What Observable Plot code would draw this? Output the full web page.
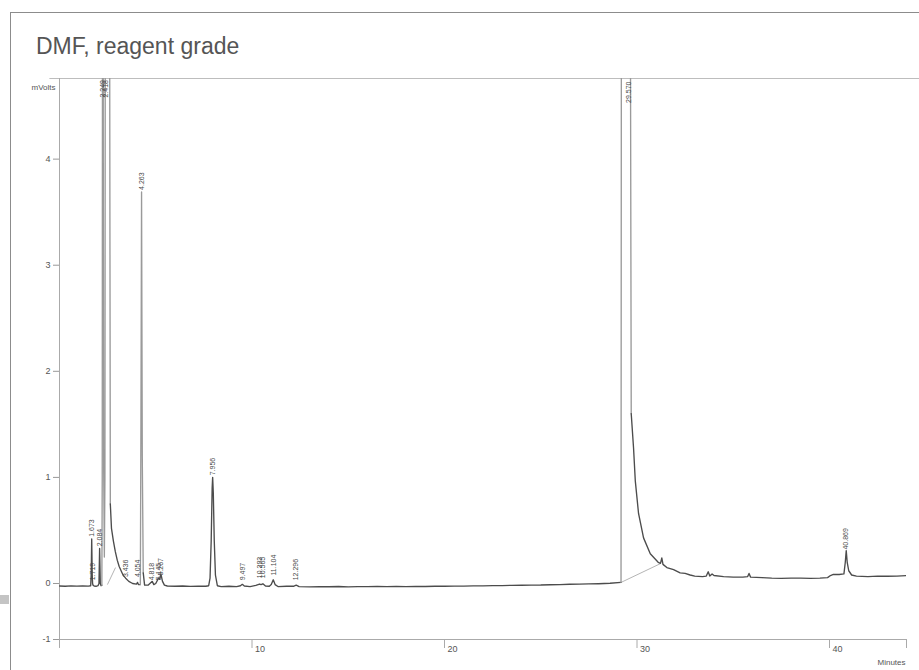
<!DOCTYPE html>
<html>
<head>
<meta charset="utf-8">
<script src="https://cdn.jsdelivr.net/npm/d3@7"></script>
<script src="https://cdn.jsdelivr.net/npm/@observablehq/plot@0.6"></script>
<style>
  html, body { margin: 0; padding: 0; background: #fff; width: 919px; height: 670px; overflow: hidden; position: relative; }
  #frame { position: absolute; left: 10px; top: 12px; width: 1000px; height: 800px; border-left: 1px solid #8c8c8c; border-top: 1px solid #8c8c8c; }
  #deco { position: absolute; left: 0; top: 595px; width: 9px; height: 9px; background: #c4c4c4; }
  #title { position: absolute; left: 36px; top: 35px; font-family: "Liberation Sans", Arial, sans-serif; font-size: 23px; line-height: 23px; color: #555; white-space: nowrap; }
  #chart { position: absolute; left: 0; top: 70px; }
</style>
</head>
<body>
<div id="frame"></div>
<div id="deco"></div>
<div id="title">DMF, reagent grade</div>
<div id="chart"></div>
<script>
// Detector trace: [minutes, mVolts] (values above the top are off-scale)
const trace = [
  [0, -0.045], [0.3, -0.05], [0.6, -0.042], [0.9, -0.048], [1.2, -0.044], [1.5, -0.046], [1.62, -0.04],
  [1.65, 0.1], [1.673, 0.42], [1.70, 0.08], [1.719, 0.0], [1.74, -0.03], [1.8, -0.045], [1.9, -0.05], [2.0, -0.04],
  [2.05, 0.0], [2.084, 0.33], [2.12, 0.0], [2.16, -0.04], [2.2, -0.03],
  [2.22, 1.0], [2.235, 6.0], [2.265, 6.0], [2.29, 1.2], [2.33, 0.25],
  [2.36, 1.0], [2.38, 6.0], [2.60, 6.0], [2.64, 0.75], [2.7, 0.52], [2.8, 0.4], [2.9, 0.3],
  [3.0, 0.22], [3.1, 0.16], [3.2, 0.12], [3.3, 0.08], [3.436, 0.05], [3.6, 0.02], [3.8, 0.0], [4.0, -0.01],
  [4.054, 0.01], [4.1, -0.02], [4.2, -0.02], [4.23, 1.5], [4.263, 3.69], [4.3, 1.2], [4.35, 0.1], [4.42, -0.03],
  [4.6, -0.03], [4.818, 0.02], [4.9, -0.02], [5.0, 0.0], [5.145, 0.05], [5.2, 0.04], [5.267, 0.09], [5.35, 0.02],
  [5.45, -0.03], [5.6, -0.045], [6.0, -0.05], [6.4, -0.045], [6.8, -0.052], [7.2, -0.048], [7.6, -0.05], [7.75, -0.04],
  [7.82, 0.05], [7.88, 0.4], [7.93, 0.9], [7.956, 1.0], [7.99, 0.85], [8.04, 0.4], [8.1, 0.08], [8.2, -0.04],
  [8.4, -0.055], [8.8, -0.05], [9.2, -0.055], [9.4, -0.04], [9.497, -0.015], [9.6, -0.045], [9.9, -0.055],
  [10.2, -0.035], [10.393, -0.01], [10.47, -0.02], [10.565, -0.005], [10.7, -0.045], [10.9, -0.05], [11.0, -0.02],
  [11.104, 0.035], [11.2, -0.02], [11.35, -0.055], [11.8, -0.05], [12.15, -0.05], [12.296, -0.03], [12.45, -0.055],
  [13, -0.06], [13.5, -0.055], [14, -0.058], [14.5, -0.053], [15, -0.06], [15.5, -0.055], [16, -0.057], [16.5, -0.054],
  [17, -0.056], [17.5, -0.052], [18, -0.057], [18.5, -0.051], [19, -0.053], [19.5, -0.049], [20, -0.05], [20.5, -0.046],
  [21, -0.047], [21.5, -0.042], [22, -0.043], [22.5, -0.039], [23, -0.038], [23.5, -0.033], [24, -0.032], [24.5, -0.028],
  [25, -0.027], [25.5, -0.022], [26, -0.02], [26.5, -0.014], [27, -0.012], [27.5, -0.007], [28, -0.004], [28.6, 0.002],
  [29.17, 0.01], [29.19, 6.0], [29.65, 6.0], [29.70, 1.6], [29.82, 1.28], [29.91, 0.97], [30.08, 0.66], [30.34, 0.43],
  [30.69, 0.28], [31.10, 0.2], [31.22, 0.19], [31.29, 0.24], [31.35, 0.18], [31.55, 0.15], [31.9, 0.13], [32.24, 0.1],
  [32.5, 0.095], [32.76, 0.08], [33.0, 0.07], [33.4, 0.065], [33.6, 0.07], [33.7, 0.11], [33.78, 0.07], [33.9, 0.09],
  [34.0, 0.075], [34.5, 0.065], [35.0, 0.06], [35.5, 0.06], [35.75, 0.065], [35.82, 0.095], [35.9, 0.06], [36.5, 0.055],
  [37.0, 0.05], [37.5, 0.048], [38, 0.05], [38.5, 0.05], [39.0, 0.048], [39.5, 0.05], [39.9, 0.055], [40.05, 0.075],
  [40.2, 0.085], [40.5, 0.085], [40.75, 0.09], [40.82, 0.2], [40.869, 0.31], [40.92, 0.2], [41.0, 0.12], [41.15, 0.08],
  [41.4, 0.07], [42, 0.065], [42.5, 0.07], [43, 0.068], [43.5, 0.07], [44, 0.075]
];

// Peak annotations: retention time, printed label, height (mV) where the label starts
const peakRT    = [1.719, 1.673, 2.084, 2.249, 2.418, 3.436, 4.054, 4.263, 4.818, 5.145, 5.267, 7.956, 9.497, 10.393, 10.565, 11.104, 12.296, 29.570, 40.869];
const peakText  = ["1.719", "1.673", "2.084", "2.249", "2.418", "3.436", "4.054", "4.263", "4.818", "5.145", "5.267", "7.956", "9.497", "10.393", "10.565", "11.104", "12.296", "29.570", "40.869"];
const peakLabMv = [0.03, 0.44, 0.35, 4.58, 4.58, 0.06, 0.06, 3.71, 0.03, 0.03, 0.075, 1.02, 0.03, 0.05, 0.05, 0.075, 0.03, 4.53, 0.32];

// Integration baselines drawn by the data system: start/end time and mV
const baseStartT = [2.49, 29.17];
const baseStartMv = [-0.02, 0.01];
const baseEndT = [2.91, 31.25];
const baseEndMv = [0.15, 0.19];

const xTicks = [10, 20, 30, 40];
const xTickMarks = [10, 20, 30, 40, 44];
const yTicks = [-1, 0, 1, 2, 3, 4];
const xMax = 44;
const yTop = 4.76;
// The original axis is compressed below zero: 1 mV below 0 takes ~0.528 of the space of 1 mV above
const belowZero = 0.528;
const yMap = (v) => (v < 0 ? v * belowZero : v);

// steep (near-vertical) stretches of the trace render as a thin light line in the original
const traceData = trace.map(([t, v], i) => {
  const next = trace[i + 1];
  const steep = next && Math.abs(next[1] - v) > 0.6;
  return {t, v, c: steep ? "#9a9a9a" : "#4c4c4c"};
});
const labels = peakRT.map((t, i) => ({t, v: peakLabMv[i], s: peakText[i]}));
const baselines = baseStartT.map((t, i) => ({t1: t, v1: baseStartMv[i], t2: baseEndT[i], v2: baseEndMv[i]}));
const yTickPos = yTicks.map(yMap);
const yTickLabel = new Map(yTicks.map((v) => [yMap(v), String(v)]));

const font = "Liberation Sans, Arial, sans-serif";

const chart = Plot.plot({
  width: 919,
  height: 600,
  marginLeft: 59,
  marginRight: 13,
  marginTop: 8,
  marginBottom: 31,
  style: {fontFamily: font, background: "transparent", color: "#555", overflow: "visible"},
  x: {domain: [0, xMax], label: null},
  y: {domain: [yMap(-1), yTop], label: null},
  marks: [
    Plot.ruleY([yTop], {x1: -0.5, x2: 44.7, stroke: "#bdbdbd", strokeWidth: 1}),
    Plot.ruleX([0], {y1: yMap(-1.16), y2: yTop, stroke: "#aaa", strokeWidth: 1}),
    Plot.ruleY([yMap(-1)], {x1: 0, x2: xMax, stroke: "#aaa", strokeWidth: 1}),
    Plot.axisY({ticks: yTickPos, tickFormat: (d) => yTickLabel.get(d), tickSize: 6, tickPadding: 3, fontSize: 9, stroke: "#999", color: "#555", label: null}),
    Plot.axisX({ticks: xTickMarks, tickSize: 9, tickFormat: () => "", stroke: "#aaa", label: null}),
    Plot.axisX({ticks: xTicks, tickSize: 0, tickPadding: 6, textAnchor: "start", dx: 3, fontSize: 9, color: "#555", label: null}),
    Plot.link(baselines, {x1: "t1", y1: (d) => yMap(d.v1), x2: "t2", y2: (d) => yMap(d.v2), stroke: "#b5b5b5", strokeWidth: 1}),
    Plot.line(traceData, {x: "t", y: (d) => yMap(d.v), z: null, stroke: "c", strokeWidth: 1.35, clip: true}),
    Plot.text(labels, {x: "t", y: (d) => yMap(d.v), text: "s", rotate: -90, textAnchor: "start", lineAnchor: "middle", fontSize: 7, fill: "#4a4a4a"}),
    Plot.text(["mVolts"], {x: 0, y: yTop, textAnchor: "end", dx: -4, dy: 9, fontSize: 8, fill: "#555"}),
    Plot.text(["Minutes"], {x: xMax, y: yMap(-1), textAnchor: "end", dx: -1, dy: 23, fontSize: 8, fill: "#555"})
  ]
});
document.getElementById("chart").appendChild(chart);
</script>
</body>
</html>
